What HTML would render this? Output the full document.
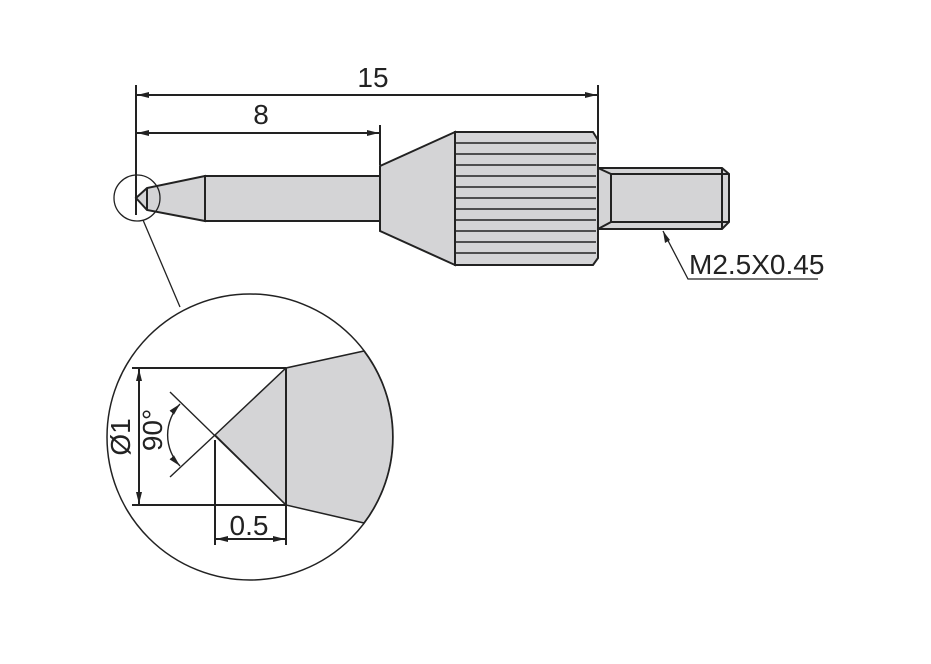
<!DOCTYPE html>
<html><head><meta charset="utf-8"><style>html,body{margin:0;padding:0;background:#fff;}svg{display:block}</style></head>
<body>
<svg width="931" height="664" viewBox="0 0 931 664" xmlns="http://www.w3.org/2000/svg" font-family="Liberation Sans, Arial, sans-serif">
<defs>
<marker id="a" viewBox="0 0 12 6" refX="12" refY="3" markerWidth="12" markerHeight="6" orient="auto-start-reverse" markerUnits="userSpaceOnUse"><path d="M0,0L12,3L0,6z" fill="#222"/></marker>
</defs>
<g stroke="#222" stroke-width="2" fill="none">
<line x1="136" y1="85" x2="136" y2="215"/>
<line x1="598" y1="85" x2="598" y2="140"/>
<line x1="380" y1="125" x2="380" y2="165"/>
<line x1="137" y1="95" x2="597" y2="95" marker-start="url(#a)" marker-end="url(#a)"/>
<line x1="137" y1="133" x2="379" y2="133" marker-start="url(#a)" marker-end="url(#a)"/>
<polygon points="136,198 147,188 205,176 205,221 147,210" fill="#d4d4d6"/>
<line x1="147" y1="188" x2="147" y2="210"/>
<rect x="205" y="176" width="175" height="45" fill="#d4d4d6"/>
<polygon points="380,166 455,132 455,265 380,231" fill="#d4d4d6"/>
<polygon points="455,132 593,132 598,140 598,258 593,265 455,265" fill="#d4d4d6"/>
<polygon points="598,168 722,168 729,174 729,222 722,229 598,229" fill="#d4d4d6"/>
<polyline points="598,168 611,174 611,222 598,229"/>
<line x1="611" y1="174" x2="729" y2="174"/>
<line x1="611" y1="222" x2="729" y2="222"/>
<line x1="722" y1="168" x2="722" y2="229"/>
</g>
<g stroke="#222" stroke-width="1.6">
<line x1="455" y1="143" x2="596" y2="143"/><line x1="455" y1="154" x2="596" y2="154"/><line x1="455" y1="165" x2="596" y2="165"/><line x1="455" y1="176" x2="596" y2="176"/><line x1="455" y1="187" x2="596" y2="187"/><line x1="455" y1="198" x2="596" y2="198"/><line x1="455" y1="209" x2="596" y2="209"/><line x1="455" y1="220" x2="596" y2="220"/><line x1="455" y1="231" x2="596" y2="231"/><line x1="455" y1="242" x2="596" y2="242"/><line x1="455" y1="253" x2="596" y2="253"/>
</g>
<g stroke="#222" stroke-width="1.3" fill="none">
<circle cx="137" cy="198" r="23"/>
<line x1="143" y1="220" x2="180" y2="307"/>
<polyline points="663,231 688,279 818,279"/>
</g>
<path d="M663,231 l2,12 l5,-3z" fill="#222"/>
<path d="M215,435 L286,368 L364,351 A143,143 0 0 1 364,523 L286,505 Z" fill="#d4d4d6" stroke="#222" stroke-width="1.5"/>
<circle cx="250" cy="437" r="143" stroke="#222" stroke-width="1.5" fill="none"/>
<g stroke="#222" stroke-width="2" fill="none">
<line x1="132" y1="368" x2="286" y2="368"/>
<line x1="132" y1="505" x2="286" y2="505"/>
<line x1="286" y1="368" x2="286" y2="545"/>
<line x1="215" y1="440" x2="215" y2="545"/>
<line x1="139" y1="369" x2="139" y2="504" marker-start="url(#a)" marker-end="url(#a)"/>
<line x1="216" y1="539" x2="285" y2="539" marker-start="url(#a)" marker-end="url(#a)"/>
</g>
<g stroke="#222" stroke-width="1.4" fill="none">
<line x1="170" y1="392" x2="286" y2="505"/>
<line x1="170" y1="477" x2="215" y2="435"/>
<path d="M180,404 A45,45 0 0 0 180,466" marker-start="url(#a)" marker-end="url(#a)"/>
</g>
<g fill="#222" font-size="28">
<text x="373" y="87" text-anchor="middle">15</text>
<text x="261" y="124" text-anchor="middle">8</text>
<text x="689" y="274">M2.5X0.45</text>
<text x="249" y="535" text-anchor="middle">0.5</text>
<text transform="translate(130,437) rotate(-90)" text-anchor="middle">Ø1</text>
<text transform="translate(162,430) rotate(-90)" text-anchor="middle">90°</text>
</g>
</svg>
</body></html>
